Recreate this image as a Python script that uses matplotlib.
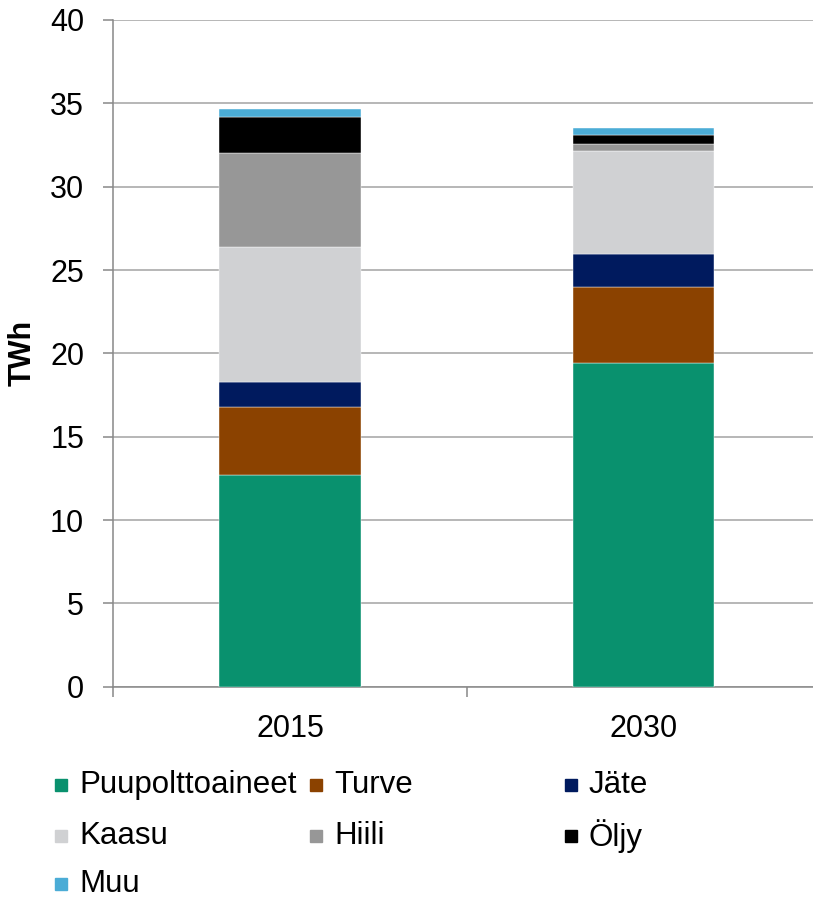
import matplotlib.pyplot as plt
from matplotlib.patches import Rectangle
import numpy as np

plt.rcParams['font.family'] = ['Liberation Sans', 'DejaVu Sans']

# Data (TWh)
vuodet = ['2015', '2030']
lahteet = ['Puupolttoaineet', 'Turve', 'Jäte', 'Kaasu', 'Hiili', 'Öljy', 'Muu']
puu = [12.68, 19.44]
turve = [4.08, 4.54]
jate = [1.52, 1.96]
kaasu = [8.08, 6.18]
hiili = [5.67, 0.44]
oljy = [2.16, 0.55]
muu = [0.48, 0.42]
varit = ['#09916e', '#8b4200', '#001a5e', '#d0d1d3', '#979797', '#000000', '#4bacd6']

sarjat = [puu, turve, jate, kaasu, hiili, oljy, muu]

W, H = 813, 900
fig = plt.figure(figsize=(W / 100, H / 100), dpi=100)
ax = fig.add_axes([113.3 / W, (H - 686.7) / H, (820 - 113.3) / W, (686.7 - 20) / H])

x = np.arange(len(vuodet))
pohja = np.zeros(len(vuodet))
for arvot, vari in zip(sarjat, varit):
    ax.bar(x, arvot, 0.4, bottom=pohja, color=vari, edgecolor='white',
           linewidth=0.3, zorder=3)
    pohja += np.array(arvot)

ax.set_xlim(-0.5, 1.5)
ax.set_ylim(0, 40)
ax.set_yticks(np.arange(0, 41, 5))
ax.yaxis.grid(True, color='#a3a3a3', linewidth=1.1, zorder=0)
ax.set_axisbelow(True)

ax.set_xticks(x)
ax.set_xticklabels(vuodet)
ax.set_xticks([-0.5, 0.5, 1.5], minor=True)
ax.tick_params(axis='x', which='major', length=0, pad=20, labelsize=22)
ax.tick_params(axis='x', which='minor', length=7, width=1.1, color='#888888')
ax.tick_params(axis='y', length=7, width=1.1, color='#888888', pad=14, labelsize=22)

for s in ['top', 'right']:
    ax.spines[s].set_visible(False)
for s in ['left', 'bottom']:
    ax.spines[s].set_color('#888888')
    ax.spines[s].set_linewidth(1.1)

fig.text(23 / W, 1 - 353 / H, 'TWh', rotation=90, fontsize=22, fontweight='bold',
         ha='center', va='center')

# Legend, filled row by row
sarake_x = [55, 310, 565]
rivi_y = [785, 836, 884]
for i, (nimi, vari) in enumerate(zip(lahteet, varit)):
    r, c = divmod(i, 3)
    x0 = sarake_x[c]
    y0 = rivi_y[r]
    fig.patches.append(Rectangle((x0 / W, 1 - (y0 + 6) / H), 12 / W, 12 / H,
                                 transform=fig.transFigure, color=vari))
    fig.text((x0 + 24) / W, 1 - y0 / H, nimi, fontsize=22.5, ha='left', va='center')

fig.savefig('out.png', dpi=100)
